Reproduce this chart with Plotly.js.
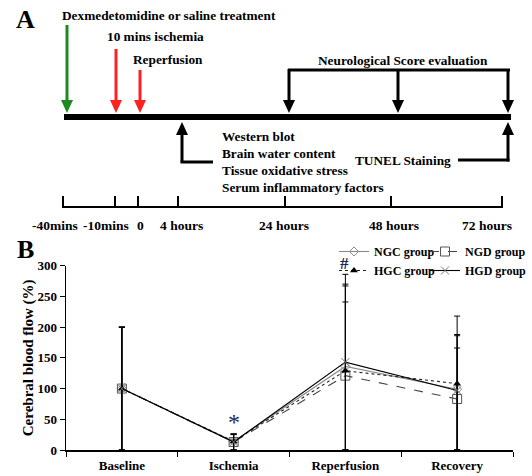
<!DOCTYPE html>
<html><head><meta charset="utf-8">
<script src="https://cdn.plot.ly/plotly-3.0.1.min.js"></script>
<style>html,body{margin:0;padding:0;background:#fff}</style>
</head><body><div id="chart" style="width:532px;height:476px"></div>
<script>
// ---- Panel B data ----
const stages = ['Baseline', 'Ischemia', 'Reperfusion', 'Recovery'];
const groupNames = ['NGC group', 'NGD group', 'HGC group', 'HGD group'];
const ngcMean = [100, 14, 136, 99];
const ngcErrUp  = [100, 12, 134, 87];
const ngcErrLow = [100, 14, 136, 99];
const ngdMean = [100, 13, 121, 83];
const ngdErrUp  = [100, 12, 120, 83];
const ngdErrLow = [100, 13, 121, 83];
const hgcMean = [100, 14, 129, 108];
const hgcErrUp  = [100, 12, 138, 110];
const hgcErrLow = [100, 14, 129, 108];
const hgdMean = [100, 13, 143, 97];
const hgdErrUp  = [100, 13, 143, 91];
const hgdErrLow = [100, 13, 143, 97];
const yTickVals = [0, 50, 100, 150, 200, 250, 300];
const yTitle = 'Cerebral blood flow (%)';
const sigMarks = ['*', '#'];

// ---- Panel A text ----
const timelineLabels = ['-40mins', '-10mins', '0', '4 hours', '24 hours', '48 hours', '72 hours'];
const treatmentLabels = ['Dexmedetomidine or saline treatment', '10 mins ischemia', 'Reperfusion'];
const assayLabels = ['Western blot', 'Brain water content', 'Tissue oxidative stress', 'Serum inflammatory factors'];
const neuroLabel = 'Neurological Score evaluation';
const tunelLabel = 'TUNEL Staining';
const panelLetters = ['A', 'B'];

// ---- layout helpers (pixel coordinate overlay) ----
const FONT = 'Liberation Serif';
const W = 532, H = 476;
const TXT = 13.3;
const ann = [];
const shp = [];
function txt(t, x, y, size, xanchor, color, weight) {
  ann.push({text: t, x: x, y: y, xref: 'x2', yref: 'y2', showarrow: false,
    xanchor: xanchor || 'center', yanchor: 'middle',
    font: {family: FONT, size: size || TXT, weight: weight || 'bold', color: color || '#000'}});
}
function line(x0, y0, x1, y1, w, c) {
  shp.push({type: 'line', xref: 'x2', yref: 'y2', x0: x0, y0: y0, x1: x1, y1: y1,
    line: {color: c || '#000', width: w}});
}
function headDown(x, yTip, c) {
  shp.push({type: 'path', xref: 'x2', yref: 'y2',
    path: `M ${x-6} ${yTip-13} L ${x+6} ${yTip-13} L ${x} ${yTip} Z`,
    fillcolor: c || '#000', line: {width: 0}});
}
function headUp(x, yTip, c) {
  shp.push({type: 'path', xref: 'x2', yref: 'y2',
    path: `M ${x-6} ${yTip+13} L ${x+6} ${yTip+13} L ${x} ${yTip} Z`,
    fillcolor: c || '#000', line: {width: 0}});
}

// Panel letters
txt(panelLetters[0], 25, 19, 26);
txt(panelLetters[1], 25, 249, 26);

// Treatment arrows
const GREEN = '#1f8a1f', RED = '#ff2020';
line(67, 25, 67, 101, 3, GREEN); headDown(67, 113, GREEN);
line(116, 49, 116, 101, 3, RED); headDown(116, 113, RED);
line(140, 70, 140, 101, 3, RED); headDown(140, 113, RED);
txt(treatmentLabels[0], 60, 15, TXT, 'left');
txt(treatmentLabels[1], 155, 36);
txt(treatmentLabels[2], 168, 59);

// Thick main bar
shp.push({type: 'rect', xref: 'x2', yref: 'y2', x0: 64, x1: 511, y0: 114, y1: 120,
  fillcolor: '#000', line: {width: 0}});

// Neurological score bracket
line(288, 70, 510, 70, 3);
[289, 398, 508].forEach(x => { line(x, 69, x, 101, 3); headDown(x, 113); });
txt(neuroLabel, 403, 60);

// 4 hours assays
headUp(182, 122); line(182, 134, 182, 162, 3); line(180.5, 162, 213, 162, 3);
assayLabels.forEach((t, i) => txt(t, 220, 136 + i * 17.3, TXT, 'left'));

// TUNEL
txt(tunelLabel, 403, 160);
line(458, 160, 509.5, 160, 3); line(508, 161.5, 508, 134, 3); headUp(508, 122);

// Bottom time axis
const tickX = [63, 115, 138, 178, 285, 391, 502];
const labelX = [55, 106, 140, 181, 284, 394, 487];
line(62, 207, 503, 207, 2);
tickX.forEach(x => line(x, 196, x, 208, 2));
timelineLabels.forEach((t, i) => txt(t, labelX[i], 225, 13.5));

// significance marks
const NAVY = '#1c2850';
txt(sigMarks[0], 234, 422, 24, 'center', NAVY, 'normal');
txt(sigMarks[1], 344, 263, 17, 'center', NAVY, 'bold');

const common = {type: 'scatter', mode: 'lines+markers', x: stages, cliponaxis: false};
function eb(up, low) { return {type: 'data', symmetric: false, array: up, arrayminus: low, visible: true, color: '#000', thickness: 1, width: 3}; }
const traces = [
  Object.assign({}, common, {name: groupNames[0], y: ngcMean, error_y: eb(ngcErrUp, ngcErrLow), legend: 'legend',
    line: {color: '#8a8a8a', width: 1.1},
    marker: {symbol: 'diamond-open', size: 7, color: '#8a8a8a', line: {width: 1}}}),
  Object.assign({}, common, {name: groupNames[1], y: ngdMean, error_y: eb(ngdErrUp, ngdErrLow), legend: 'legend2',
    line: {color: '#444', width: 1.1, dash: 'dash'},
    marker: {symbol: 'square-open', size: 9, color: '#555', line: {width: 1}}}),
  Object.assign({}, common, {name: groupNames[2], y: hgcMean, error_y: eb(hgcErrUp, hgcErrLow), legend: 'legend',
    line: {color: '#222', width: 1.1, dash: 'dot'},
    marker: {symbol: 'triangle-up', size: 7, color: '#000'}}),
  Object.assign({}, common, {name: groupNames[3], y: hgdMean, error_y: eb(hgdErrUp, hgdErrLow), legend: 'legend2',
    line: {color: '#000', width: 1.1},
    marker: {symbol: 'x-thin-open', size: 8, color: '#777', line: {width: 1}}})
];

const legFont = {family: FONT, size: 12, weight: 'bold', color: '#000'};
const layout = {
  width: W, height: H,
  margin: {l: 0, r: 0, t: 0, b: 0},
  paper_bgcolor: '#fff', plot_bgcolor: 'rgba(0,0,0,0)',
  font: {family: FONT, size: 13, color: '#000'},
  showlegend: true,
  legend: {x: 334 / W, y: 1 - 237 / H, xanchor: 'left', yanchor: 'top', orientation: 'v',
    bgcolor: 'rgba(0,0,0,0)', font: legFont, itemwidth: 30},
  legend2: {x: 1, y: 1 - 237 / H, xanchor: 'right', yanchor: 'top', orientation: 'v',
    bgcolor: 'rgba(0,0,0,0)', font: legFont, itemwidth: 30},
  xaxis: {domain: [66 / W, 513 / W], anchor: 'y', type: 'category', categoryarray: stages,
    range: [-0.5, 3.5], showline: true, linecolor: '#000', linewidth: 1.5,
    ticks: 'outside', tickson: 'boundaries', ticklen: 5, tickcolor: '#000', tickwidth: 1,
    showgrid: false, zeroline: false, ticklabelstandoff: 3,
    tickfont: {family: FONT, size: 13, weight: 'bold'}},
  yaxis: {domain: [26 / H, 210.3 / H], anchor: 'x', range: [0, 300], tickvals: yTickVals,
    showline: true, linecolor: '#000', linewidth: 1.5, ticks: 'outside', ticklen: 5,
    tickcolor: '#000', tickwidth: 1, showgrid: false, zeroline: false,
    tickfont: {family: FONT, size: 13, weight: 'bold'},
    title: {text: yTitle, font: {family: FONT, size: 15, weight: 'bold'}, standoff: 0}},
  xaxis2: {domain: [0, 1], range: [0, W], anchor: 'y2', visible: false, fixedrange: true},
  yaxis2: {domain: [0, 1], range: [H, 0], anchor: 'x2', visible: false, fixedrange: true},
  shapes: shp,
  annotations: ann
};
Plotly.newPlot('chart', traces, layout, {displayModeBar: false, staticPlot: true});
</script></body></html>
